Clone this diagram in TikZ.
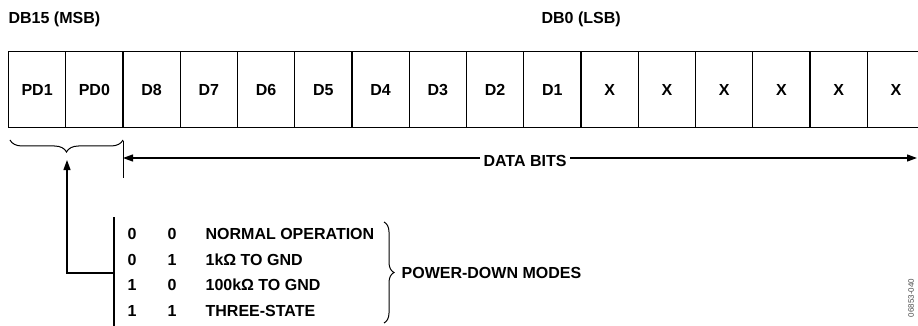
\documentclass[tikz,border=0pt]{standalone}
\usepackage{fontspec}
\setmainfont{Liberation Sans}
\usetikzlibrary{arrows.meta,decorations.pathreplacing}
\tikzset{>={Triangle[length=10pt,width=7pt]}}
\tikzset{
  bits/.style={font=\fontsize{16}{19}\selectfont\bfseries},
  caps/.style={text height=11.5pt, text depth=0pt},
  cell/.style={draw, caps, minimum width=57.25pt, minimum height=76pt, inner sep=0pt},
}

\begin{document}
\begin{tikzpicture}[x=1pt, y=-1pt, line width=1.2pt, bits]
    \useasboundingbox (0,0) rectangle (918,326);
    \clip (0,0) rectangle (918,326);
    \node[anchor=base west] (msb) at (4.7,23.5) {DB15 (MSB)};
    \node[anchor=base west] (lsb) at (537.7,23.5) {DB0 (LSB)};
    \foreach \lbl [count=\i] in {PD1,PD0,D8,D7,D6,D5,D4,D3,D2,D1,X,X,X,X,X,X}
    \node[cell] (c\i) at (8.5+57.25*\i-28.625, 89.5) {\lbl};
    \coordinate (bl) at (10,140);
    \coordinate (br) at (123,140);
    \coordinate (tip) at (67,160);
    \draw[line width=1pt, decorate, decoration={brace, mirror, amplitude=12pt}] (bl) -- (br);
    \draw (c2.south east) ++(0,12.5) -- ++(0,37);
    \coordinate (dl) at (123,158);
    \coordinate (dr) at (917,158);
    \node[caps] (data) at (525,160.5) {DATA BITS};
    \draw[<-] (dl) -- (dl -| data.west);
    \draw[->] (data.east |- dr) -- (dr);
    \coordinate (bt) at (114,217);
    \coordinate (bb) at (114,326);
    \coordinate (mid) at (114,273);
    \draw (bt) -- (bb);
    \draw[->] (mid) -| (tip);
    \foreach \a/\b/\mode [count=\r] in {0/0/NORMAL OPERATION,0/1/1kΩ TO GND,1/0/100kΩ TO GND,1/1/THREE-STATE} {
    \node[caps] (a\r) at (132, 208.5+25.5*\r) {\a};
    \node[caps] (b\r) at (172, 208.5+25.5*\r) {\b};
    \node[caps, anchor=west] (m\r) at (201.7, 208.5+25.5*\r) {\mode};
    }
    \draw[line width=1pt, decorate, decoration={brace, amplitude=10pt}] (384,222) -- (384,323);
    \node[caps, anchor=west] (modes) at (397.7,272.5) {POWER-DOWN MODES};
    \node[rotate=90, font=\fontsize{8}{9}\selectfont, black!70] (fig) at (911,298) {06853-040};
\end{tikzpicture}
\end{document}
